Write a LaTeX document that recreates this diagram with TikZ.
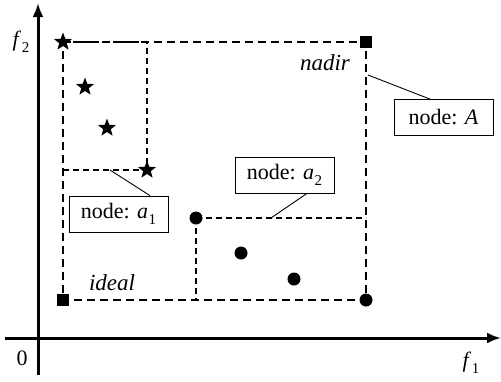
\documentclass[tikz,border=0pt]{standalone}
\usepackage{fontspec}
\setmainfont{Liberation Serif}
\usetikzlibrary{shapes.geometric,arrows.meta}
% italic variable with a lowered upright index
\newcommand\varidx[2]{\textit{#1}\kern0.5pt\raisebox{-0.28em}{\fontsize{15}{17}\selectfont #2}}
\tikzset{
  axis/.style={line width=3pt,-{Latex[length=14pt,width=11pt]}},
  outerdash/.style={line width=1.8pt,dash pattern=on 8pt off 5pt},
  innerdash/.style={line width=1.1pt,dash pattern=on 6pt off 4pt},
  sqmark/.style={fill=black,minimum size=12pt,inner sep=0pt},
  dotmark/.style={circle,fill=black,minimum size=13pt,inner sep=0pt},
  starmark/.style={star,star points=5,star point ratio=2.4,fill=black,minimum size=19pt,inner sep=0pt},
  labelbox/.style={draw,line width=0.8pt,minimum width=99pt,minimum height=36pt,inner sep=2pt,font=\fontsize{22}{26}\selectfont},
  tag/.style={font=\fontsize{22}{26}\selectfont},
  itag/.style={font=\fontsize{23}{27}\selectfont\itshape},
  leader/.style={line width=0.9pt}
}
\begin{document}
\begin{tikzpicture}[x=1pt,y=-1pt]
\useasboundingbox (0,0) rectangle (501,381);
% axes
\coordinate (ybot) at (38,375);
\coordinate (ytop) at (38,3);
\coordinate (xleft) at (5,338);
\coordinate (xright) at (501,338);
\draw[axis] (ybot) -- (ytop);
\draw[axis] (xleft) -- (xright);
\node[tag] (f2) at (21,42) {\varidx{f}{2}};
\node[tag] (f1) at (471,363) {\varidx{f}{1}};
\node[tag] (zero) at (22,358) {0};
% corner points
\coordinate (s1) at (63,42);
\coordinate (s2) at (85,87);
\coordinate (s3) at (107,128);
\coordinate (s4) at (147,170);
\coordinate (c1) at (196,218);
\coordinate (c2) at (241,253);
\coordinate (c3) at (294,279);
\coordinate (c4) at (366,300);
\coordinate (nd) at (366,42);
\coordinate (id) at (63,300);
% bounding boxes of the two sets
\draw[innerdash] (s1) -- (s4 |- s1) -- (s4) -- (s1 |- s4);
\draw[innerdash] (c1) -- (c4 |- c1);
\draw[innerdash] (c1) -- (c1 |- c4);
\draw[outerdash] (s1) -- (nd) -- (c4) -- (id) -- cycle;
% markers
\foreach \p in {s1,s2,s3,s4} \node[starmark] at (\p) {};
\foreach \p in {c1,c2,c3,c4} \node[dotmark] at (\p) {};
\node[sqmark] (nadir) at (nd) {};
\node[sqmark] (ideal) at (id) {};
\node[itag] (nadirlbl) at (325,63) {nadir};
\node[itag] (ideallbl) at (112,283) {ideal};
% callouts
\node[labelbox] (boxA) at (443.5,117.5) {node: \textit{A}};
\node[labelbox] (boxa2) at (284.5,175) {node: \varidx{a}{2}};
\node[labelbox] (boxa1) at (118.5,214) {node: \varidx{a}{1}};
\coordinate (pA) at (368,75);
\coordinate (pa2) at (271,218);
\coordinate (pa1) at (110,170);
\draw[leader] (pA) -- (boxA.north west -| 430,0);
\draw[leader] (pa2) -- (boxa2.south -| 307,0);
\draw[leader] (pa1) -- (boxa1.north -| 150,0);
\end{tikzpicture}
\end{document}
